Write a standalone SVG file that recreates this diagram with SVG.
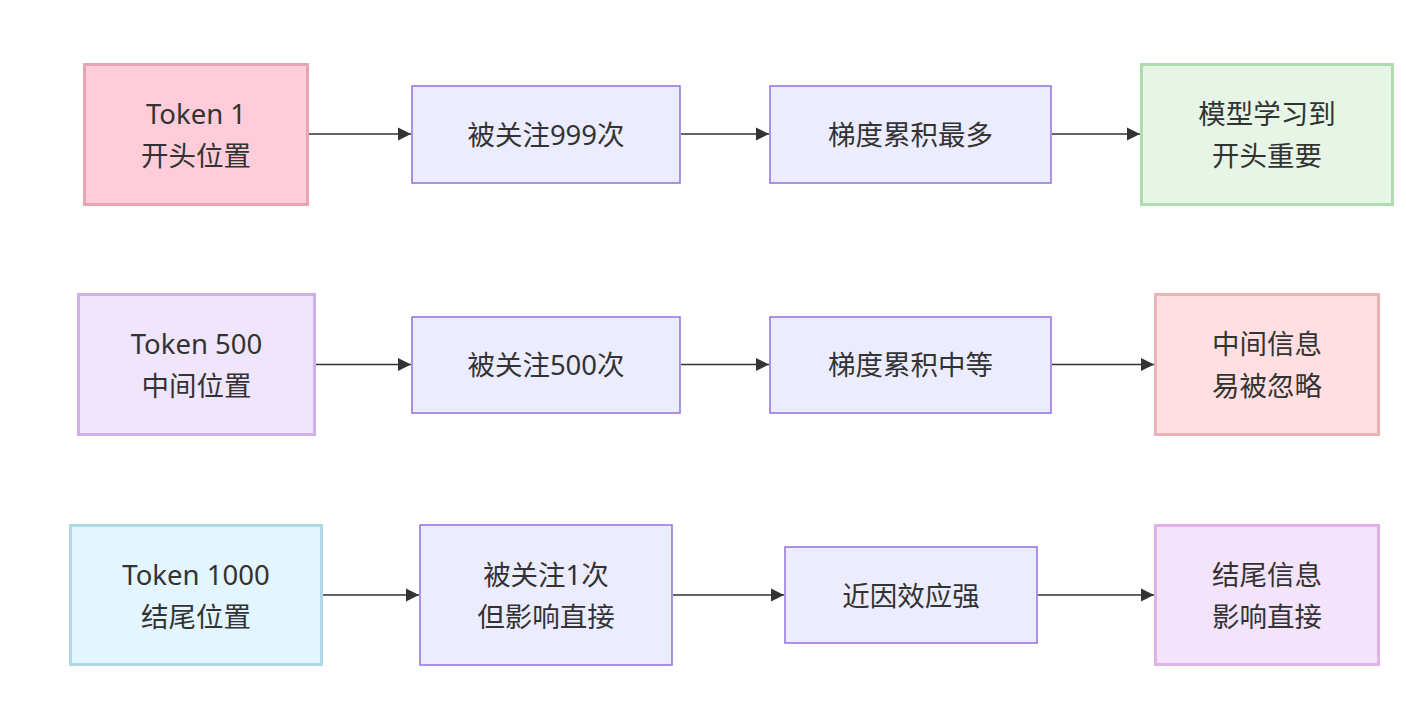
<svg xmlns="http://www.w3.org/2000/svg" width="1406" height="726" viewBox="0 0 1406 726">
<defs>
<marker id="arr" viewBox="0 0 10 10" refX="10" refY="5" markerWidth="13" markerHeight="14" markerUnits="userSpaceOnUse" orient="auto"><path d="M0,0 L10,5 L0,10 z" fill="#333"/></marker>
<style>
text{font-family:"Noto Sans","Noto Sans CJK SC",sans-serif;font-size:27.5px;fill:#333;text-anchor:middle;dominant-baseline:central}
.def{fill:#ECECFF;stroke:#9370DB;stroke-width:1.5}
.c1{fill:#FFCDD9;stroke:#E8A5B5;stroke-width:3}
.c2{fill:#E7F5E7;stroke:#B0DAB0;stroke-width:3}
.c3{fill:#F0E5FB;stroke:#CDB2EA;stroke-width:3}
.c4{fill:#FFDFE1;stroke:#E8B4B6;stroke-width:3}
.c5{fill:#E3F5FE;stroke:#AED7E6;stroke-width:3}
.c6{fill:#F3E3FB;stroke:#DDB3E8;stroke-width:3}
.e{stroke:#333;stroke-width:1.5;fill:none;marker-end:url(#arr)}
</style>
</defs>
<rect width="1406" height="726" fill="#fff"/>
<g id="edges">
<path class="e" d="M309,134 L411,134"/>
<path class="e" d="M681,134 L769,134"/>
<path class="e" d="M1052,134 L1140,134"/>
<path class="e" d="M316,364.5 L411,364.5"/>
<path class="e" d="M681,364.5 L769,364.5"/>
<path class="e" d="M1052,364.5 L1154,364.5"/>
<path class="e" d="M323,595 L419,595"/>
<path class="e" d="M673,595 L784,595"/>
<path class="e" d="M1038,595 L1154,595"/>
</g>
<g id="A1"><rect class="c1" x="84.5" y="64.5" width="223" height="140"/><text x="196" y="113">Token 1</text><text x="196" y="155">开头位置</text></g>
<g id="A2"><rect class="def" x="412" y="86" width="268" height="97"/><text x="546" y="134">被关注999次</text></g>
<g id="A3"><rect class="def" x="770" y="86" width="281" height="97"/><text x="910.5" y="134">梯度累积最多</text></g>
<g id="A4"><rect class="c2" x="1141.5" y="64.5" width="251" height="140"/><text x="1267" y="113">模型学习到</text><text x="1267" y="155">开头重要</text></g>
<g id="B1"><rect class="c3" x="78.5" y="294.5" width="236" height="140"/><text x="196.5" y="343.5">Token 500</text><text x="196.5" y="385.5">中间位置</text></g>
<g id="B2"><rect class="def" x="412" y="317" width="268" height="96"/><text x="546" y="364.5">被关注500次</text></g>
<g id="B3"><rect class="def" x="770" y="317" width="281" height="96"/><text x="910.5" y="364.5">梯度累积中等</text></g>
<g id="B4"><rect class="c4" x="1155.5" y="294.5" width="223" height="140"/><text x="1267" y="343.5">中间信息</text><text x="1267" y="385.5">易被忽略</text></g>
<g id="C1"><rect class="c5" x="70.5" y="525.5" width="251" height="139"/><text x="196" y="574">Token 1000</text><text x="196" y="616">结尾位置</text></g>
<g id="C2"><rect class="def" x="420" y="525" width="252" height="140"/><text x="546" y="574">被关注1次</text><text x="546" y="616">但影响直接</text></g>
<g id="C3"><rect class="def" x="785" y="547" width="252" height="96"/><text x="911" y="595">近因效应强</text></g>
<g id="C4"><rect class="c6" x="1155.5" y="525.5" width="223" height="139"/><text x="1267" y="574">结尾信息</text><text x="1267" y="616">影响直接</text></g>
</svg>
